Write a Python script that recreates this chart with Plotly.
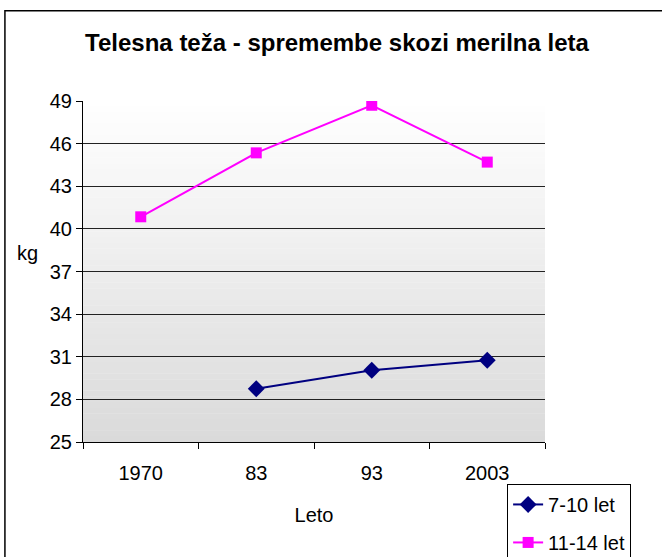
import plotly.graph_objects as go

categories = ["1970", "83", "93", "2003"]
series_a_name = "7-10 let"
series_a = [None, 28.75, 30.05, 30.75]
series_b_name = "11-14 let"
series_b = [40.85, 45.35, 48.7, 44.7]
y_ticks = [25, 28, 31, 34, 37, 40, 43, 46, 49]

FONT = "Liberation Sans, Arial, sans-serif"

fig = go.Figure()
fig.add_trace(go.Scatter(
    x=categories, y=series_a, name=series_a_name, mode="lines+markers",
    line=dict(color="#000080", width=2),
    marker=dict(symbol="diamond", size=13, color="#000080"),
    legendgroup="a",
))
fig.add_trace(go.Scatter(
    x=categories, y=series_b, name=series_b_name, mode="lines+markers",
    line=dict(color="#FF00FF", width=2),
    marker=dict(symbol="square", size=11, color="#FF00FF"),
    legendgroup="b",
))

# gradient plot background (white at top -> light grey at bottom)
shapes = []
n = 60
for i in range(n):
    t = (i + 0.5) / n
    c = int(round(255 - (255 - 218) * t))
    shapes.append(dict(type="rect", xref="paper", yref="paper",
                       x0=0, x1=1, y0=1 - (i + 1) / n, y1=1 - i / n + 0.001,
                       fillcolor=f"rgb({c},{c},{c})", line=dict(width=0),
                       layer="below"))
# outer chart border
shapes.append(dict(type="rect", xref="paper", yref="paper",
                   x0=-0.169, x1=1.4, y0=-0.6, y1=1.265,
                   line=dict(color="black", width=1.5), fillcolor="rgba(0,0,0,0)",
                   layer="below"))

fig.update_layout(
    width=662, height=557,
    margin=dict(l=83, r=117, t=101, b=115, autoexpand=False),
    paper_bgcolor="white",
    plot_bgcolor="rgba(0,0,0,0)",
    font=dict(family=FONT, size=20, color="black"),
    title=dict(text="<b>Telesna teža - spremembe skozi merilna leta</b>",
               x=337 / 662, xanchor="center", y=1 - 43 / 557, yanchor="middle",
               font=dict(family=FONT, size=24, color="black")),
    shapes=shapes,
    showlegend=True,
    legend=dict(x=0.918, y=-0.123, xanchor="left", yanchor="top",
                bordercolor="black", borderwidth=1, bgcolor="white",
                font=dict(family=FONT, size=20, color="black"),
                traceorder="grouped", tracegroupgap=9),
    annotations=[dict(text="kg", xref="paper", yref="paper", x=-0.121, y=0.554,
                      showarrow=False, xanchor="center", yanchor="middle",
                      font=dict(family=FONT, size=20, color="black"))],
)
fig.update_xaxes(
    type="category", categoryorder="array", categoryarray=categories,
    range=[-0.5, len(categories) - 0.5],
    showline=True, linecolor="black", linewidth=1,
    ticks="outside", ticklen=6, tickcolor="black", tickson="boundaries",
    ticklabelstandoff=13,
    showgrid=False, zeroline=False,
    title=dict(text="Leto", standoff=24, font=dict(family=FONT, size=20)),
    tickfont=dict(family=FONT, size=20),
)
fig.update_yaxes(
    range=[25, 49], tickvals=y_ticks,
    showline=True, linecolor="black", linewidth=1,
    ticks="outside", ticklen=6, tickcolor="black",
    showgrid=True, gridcolor="#222222", gridwidth=1, zeroline=False,
    tickfont=dict(family=FONT, size=20),
)

fig.write_html("out.html", config={"displayModeBar": False},
               post_script="document.body.style.margin='0px';document.body.style.overflow='hidden';")
